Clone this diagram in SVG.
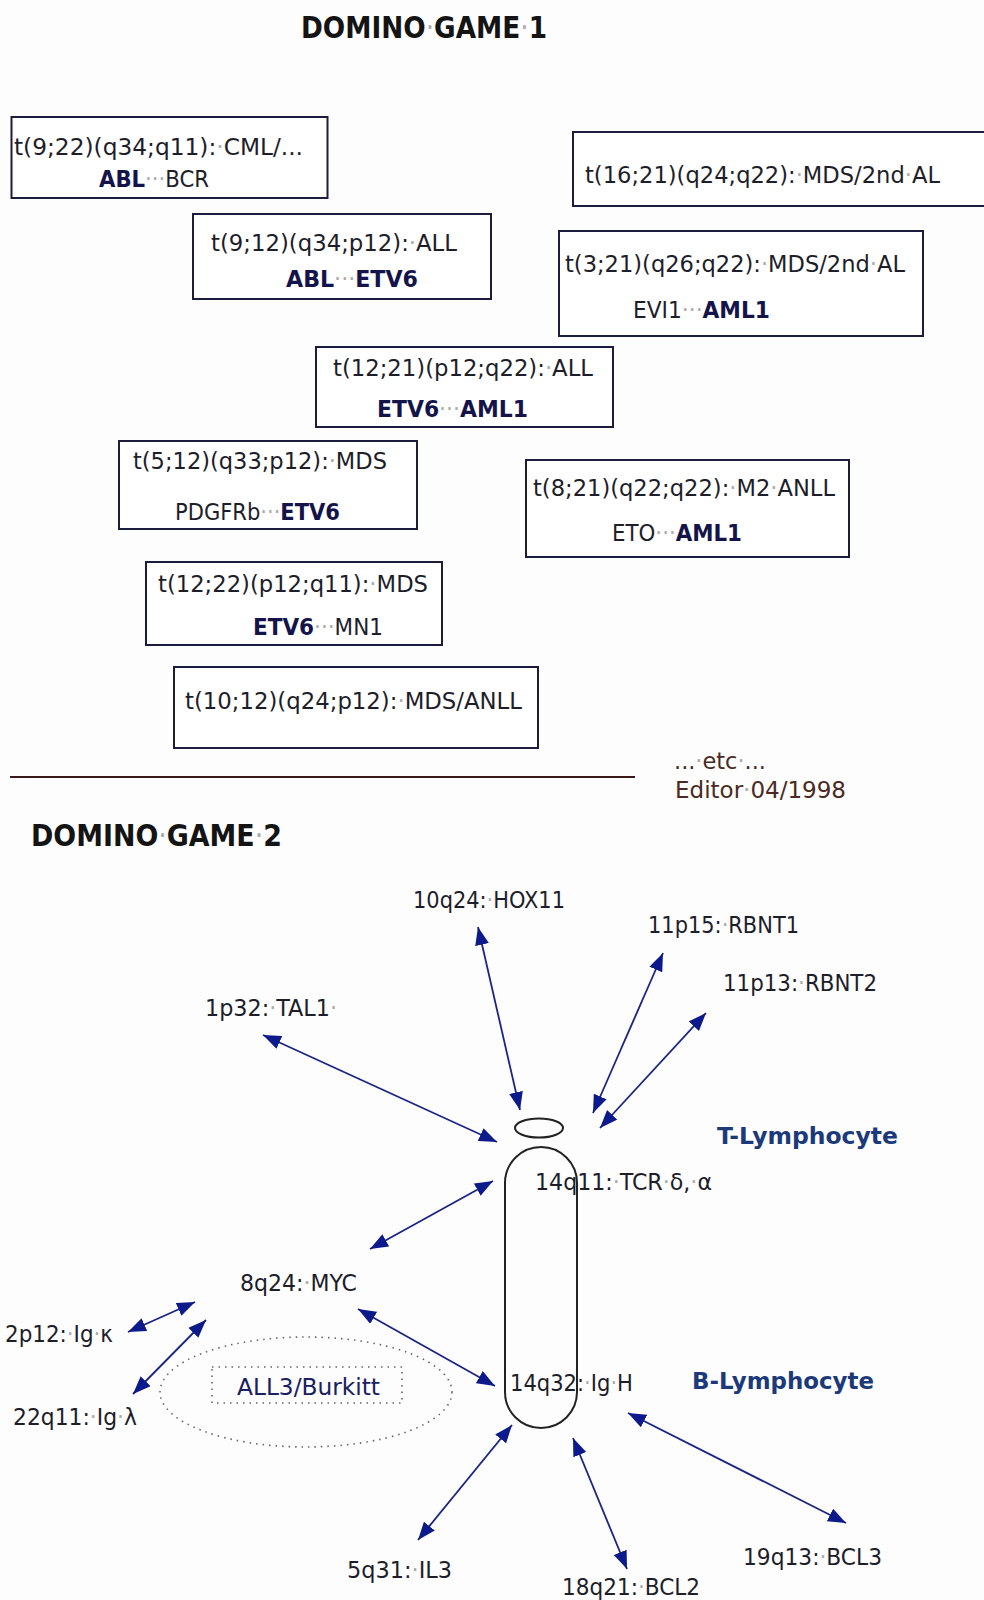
<svg xmlns="http://www.w3.org/2000/svg" width="984" height="1600" viewBox="0 0 984 1600">
<style>
text{font-family:"DejaVu Sans Condensed","DejaVu Sans","Liberation Sans",sans-serif;font-size:23px;fill:#1e1e2a}
.title{font-size:30px;font-weight:bold;fill:#141414}
.b{font-weight:bold;fill:#14144a}
.d{fill:#aaaaaa;font-weight:normal}
.lym{font-weight:bold;fill:#1c3a7a}
.nv{fill:#1a2060}
.ed{fill:#4a2a22}
.box{fill:#ffffff;stroke:#1c1c3c;stroke-width:2}
.arr{stroke:#1a2585;stroke-width:1.8;fill:none;marker-start:url(#ah);marker-end:url(#ah)}
.chr{fill:none;stroke:#222222;stroke-width:2}
.dot{fill:none;stroke:#666666;stroke-width:1.6;stroke-dasharray:1.5 5}
</style>
<defs>
<marker id="ah" markerUnits="userSpaceOnUse" viewBox="0 0 18 14" markerWidth="18" markerHeight="14" refX="18" refY="7" orient="auto-start-reverse">
<path d="M0,0 L18,7 L0,14 z" fill="#0c1a8c"/>
</marker>
</defs>
<rect x="0" y="0" width="984" height="1600" fill="#fdfdfd"/>

<g id="title1"><text class="title" x="301" y="38" textLength="246" lengthAdjust="spacingAndGlyphs">DOMINO<tspan class="d">·</tspan>GAME<tspan class="d">·</tspan>1</text></g>

<g id="box-t9-22">
<rect class="box" x="11.5" y="117" width="316" height="81"/>
<text x="14" y="155" textLength="289" lengthAdjust="spacingAndGlyphs">t(9;22)(q34;q11):<tspan class="d">·</tspan>CML/...</text>
<text x="99" y="187" textLength="110" lengthAdjust="spacingAndGlyphs"><tspan class="b">ABL</tspan><tspan class="d">···</tspan>BCR</text>
</g>
<g id="box-t9-12">
<rect class="box" x="193" y="214" width="298" height="85"/>
<text x="211" y="251" textLength="246" lengthAdjust="spacingAndGlyphs">t(9;12)(q34;p12):<tspan class="d">·</tspan>ALL</text>
<text x="286" y="287" textLength="132" lengthAdjust="spacingAndGlyphs"><tspan class="b">ABL</tspan><tspan class="d">···</tspan><tspan class="b">ETV6</tspan></text>
</g>
<g id="box-t16-21">
<rect class="box" x="573" y="132" width="420" height="74"/>
<text x="585" y="183" textLength="355" lengthAdjust="spacingAndGlyphs">t(16;21)(q24;q22):<tspan class="d">·</tspan>MDS/2nd<tspan class="d">·</tspan>AL</text>
</g>
<g id="box-t3-21">
<rect class="box" x="559" y="231" width="364" height="105"/>
<text x="565" y="272" textLength="340" lengthAdjust="spacingAndGlyphs">t(3;21)(q26;q22):<tspan class="d">·</tspan>MDS/2nd<tspan class="d">·</tspan>AL</text>
<text x="633" y="318" textLength="137" lengthAdjust="spacingAndGlyphs">EVI1<tspan class="d">···</tspan><tspan class="b">AML1</tspan></text>
</g>
<g id="box-t12-21">
<rect class="box" x="316" y="347" width="297" height="80"/>
<text x="333" y="376" textLength="260" lengthAdjust="spacingAndGlyphs">t(12;21)(p12;q22):<tspan class="d">·</tspan>ALL</text>
<text x="377" y="417" textLength="151" lengthAdjust="spacingAndGlyphs"><tspan class="b">ETV6</tspan><tspan class="d">···</tspan><tspan class="b">AML1</tspan></text>
</g>
<g id="box-t8-21">
<rect class="box" x="526" y="460" width="323" height="97"/>
<text x="533" y="496" textLength="302" lengthAdjust="spacingAndGlyphs">t(8;21)(q22;q22):<tspan class="d">·</tspan>M2<tspan class="d">·</tspan>ANLL</text>
<text x="612" y="541" textLength="130" lengthAdjust="spacingAndGlyphs">ETO<tspan class="d">···</tspan><tspan class="b">AML1</tspan></text>
</g>
<g id="box-t5-12">
<rect class="box" x="119" y="441" width="298" height="88"/>
<text x="133" y="469" textLength="254" lengthAdjust="spacingAndGlyphs">t(5;12)(q33;p12):<tspan class="d">·</tspan>MDS</text>
<text x="175" y="520" textLength="165" lengthAdjust="spacingAndGlyphs">PDGFRb<tspan class="d">···</tspan><tspan class="b">ETV6</tspan></text>
</g>
<g id="box-t12-22">
<rect class="box" x="146" y="562" width="296" height="83"/>
<text x="158" y="592" textLength="270" lengthAdjust="spacingAndGlyphs">t(12;22)(p12;q11):<tspan class="d">·</tspan>MDS</text>
<text x="253" y="635" textLength="130" lengthAdjust="spacingAndGlyphs"><tspan class="b">ETV6</tspan><tspan class="d">···</tspan>MN1</text>
</g>
<g id="box-t10-12">
<rect class="box" x="174" y="667" width="364" height="81"/>
<text x="185" y="709" textLength="337" lengthAdjust="spacingAndGlyphs">t(10;12)(q24;p12):<tspan class="d">·</tspan>MDS/ANLL</text>
</g>

<g id="separator"><line x1="10" y1="777" x2="635" y2="777" stroke="#3a1818" stroke-width="2"/></g>
<g id="note">
<text class="ed" x="674" y="769" textLength="92" lengthAdjust="spacingAndGlyphs">...<tspan class="d">·</tspan>etc<tspan class="d">·</tspan>...</text>
<text class="ed" x="675" y="798" textLength="171" lengthAdjust="spacingAndGlyphs">Editor<tspan class="d">·</tspan>04/1998</text>
</g>

<g id="title2"><text class="title" x="31" y="846" textLength="251" lengthAdjust="spacingAndGlyphs">DOMINO<tspan class="d">·</tspan>GAME<tspan class="d">·</tspan>2</text></g>

<g id="chromosome14">
<ellipse class="chr" cx="539" cy="1128" rx="24" ry="9.5"/>
<path class="chr" d="M505,1183 A36,36 0 0 1 577,1183 L577,1392 A36,36 0 0 1 505,1392 Z"/>
</g>

<g id="connectors">
<line class="arr" x1="263" y1="1035" x2="497" y2="1142"/>
<line class="arr" x1="478" y1="927" x2="520" y2="1110"/>
<line class="arr" x1="663" y1="953" x2="593" y2="1113"/>
<line class="arr" x1="706" y1="1013" x2="600" y2="1128"/>
<line class="arr" x1="493" y1="1181" x2="370" y2="1249"/>
<line class="arr" x1="128" y1="1332" x2="195" y2="1302"/>
<line class="arr" x1="133" y1="1394" x2="206" y2="1320"/>
<line class="arr" x1="358" y1="1309" x2="495" y2="1386"/>
<line class="arr" x1="418" y1="1540" x2="512" y2="1425"/>
<line class="arr" x1="573" y1="1438" x2="627" y2="1569"/>
<line class="arr" x1="628" y1="1413" x2="846" y2="1523"/>
</g>

<g id="n-hox11"><text x="413" y="908" textLength="152" lengthAdjust="spacingAndGlyphs">10q24:<tspan class="d">·</tspan>HOX11</text></g>
<g id="n-rbnt1"><text x="648" y="933" textLength="151" lengthAdjust="spacingAndGlyphs">11p15:<tspan class="d">·</tspan>RBNT1</text></g>
<g id="n-rbnt2"><text x="723" y="991" textLength="154" lengthAdjust="spacingAndGlyphs">11p13:<tspan class="d">·</tspan>RBNT2</text></g>
<g id="n-tal1"><text x="205" y="1016" textLength="132" lengthAdjust="spacingAndGlyphs">1p32:<tspan class="d">·</tspan>TAL1<tspan class="d">·</tspan></text></g>
<g id="n-tlym"><text class="lym" x="717" y="1144" textLength="181" lengthAdjust="spacingAndGlyphs">T-Lymphocyte</text></g>
<g id="n-14q11"><text x="535" y="1190" textLength="177" lengthAdjust="spacingAndGlyphs">14q11:<tspan class="d">·</tspan>TCR<tspan class="d">·</tspan>δ,<tspan class="d">·</tspan>α</text></g>
<g id="n-myc"><text x="240" y="1291" textLength="117" lengthAdjust="spacingAndGlyphs">8q24:<tspan class="d">·</tspan>MYC</text></g>
<g id="n-igk"><text x="5" y="1342" textLength="108" lengthAdjust="spacingAndGlyphs">2p12:<tspan class="d">·</tspan>Ig<tspan class="d">·</tspan>κ</text></g>
<g id="n-igl"><text x="13" y="1425" textLength="124" lengthAdjust="spacingAndGlyphs">22q11:<tspan class="d">·</tspan>Ig<tspan class="d">·</tspan>λ</text></g>
<g id="n-burkitt">
<ellipse class="dot" cx="306" cy="1392" rx="146" ry="55"/>
<rect class="dot" x="212" y="1367" width="190" height="36"/>
<text class="nv" x="237" y="1395" textLength="143" lengthAdjust="spacingAndGlyphs">ALL3/Burkitt</text>
</g>
<g id="n-igh"><text x="510" y="1391" textLength="123" lengthAdjust="spacingAndGlyphs">14q32:<tspan class="d">·</tspan>Ig<tspan class="d">·</tspan>H</text></g>
<g id="n-blym"><text class="lym" x="692" y="1389" textLength="182" lengthAdjust="spacingAndGlyphs">B-Lymphocyte</text></g>
<g id="n-il3"><text x="347" y="1578" textLength="105" lengthAdjust="spacingAndGlyphs">5q31:<tspan class="d">·</tspan>IL3</text></g>
<g id="n-bcl2"><text x="562" y="1595" textLength="138" lengthAdjust="spacingAndGlyphs">18q21:<tspan class="d">·</tspan>BCL2</text></g>
<g id="n-bcl3"><text x="743" y="1565" textLength="139" lengthAdjust="spacingAndGlyphs">19q13:<tspan class="d">·</tspan>BCL3</text></g>
</svg>
